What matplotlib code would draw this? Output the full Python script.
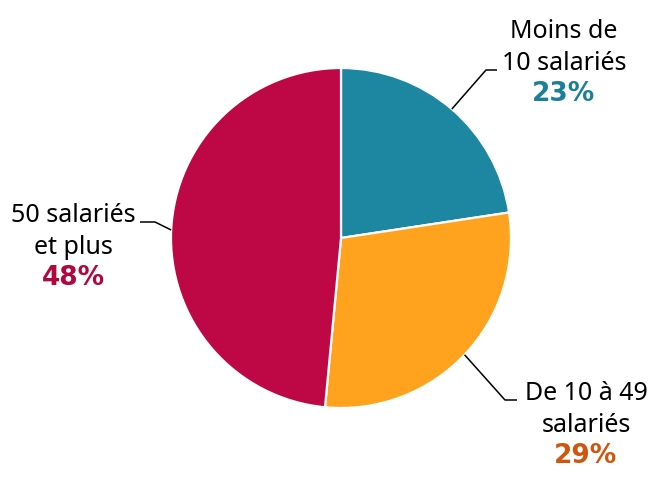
import numpy as np
import matplotlib.pyplot as plt

# share of companies by size (angles)
categories = [['Moins de', '10 salariés'], ['De 10 à 49', 'salariés'], ['50 salariés', 'et plus']]
values = [22.6, 28.9, 48.5]
pct_labels = ['23%', '29%', '48%']
colors = ['#1d86a1', '#ffa31f', '#be0846']
pct_colors = ['#1b7f99', '#cf560c', '#b0073f']

W, H = 663, 480
fig = plt.figure(figsize=(W / 100, H / 100), dpi=100)
ax = fig.add_axes([0, 0, 1, 1])

cx, cy, r = 341, H - 238, 170
wedges, _ = ax.pie(values, colors=colors, startangle=90, counterclock=False,
                   center=(cx, cy), radius=r,
                   wedgeprops=dict(edgecolor='white', linewidth=1.6))
ax.set_xlim(0, W)
ax.set_ylim(0, H)
ax.set_aspect('equal')
ax.axis('off')

# label layout: elbow point, end of the horizontal tick, text centre x and first baseline (pixels from top)
layout = [
    dict(elbow=(486, 70), end=(497, 70), x=564, base=38),
    dict(elbow=(505, 400), end=(517, 400), x=586, base=400),
    dict(elbow=(155, 222), end=(140, 222), x=73, base=222),
]

for w, lines, pct, pc, lay in zip(wedges, categories, pct_labels, pct_colors, layout):
    mid = np.deg2rad((w.theta1 + w.theta2) / 2)
    x0 = cx + r * np.cos(mid)
    y0 = cy + r * np.sin(mid)
    ex, ey = lay['elbow']
    tx, ty = lay['end']
    ax.plot([x0, ex, tx], [y0, H - ey, H - ty], color='black', lw=1.1,
            solid_capstyle='butt', zorder=3)
    b = lay['base']
    for i, line in enumerate(lines):
        ax.text(lay['x'], H - b - 32 * i, line, ha='center', va='baseline',
                color='black', family='Noto Sans', fontsize=18)
    ax.text(lay['x'], H - b - 63, pct, ha='center', va='baseline',
            fontweight='bold', color=pc, family='DejaVu Sans', fontsize=19)

fig.savefig('out.png', dpi=100)
